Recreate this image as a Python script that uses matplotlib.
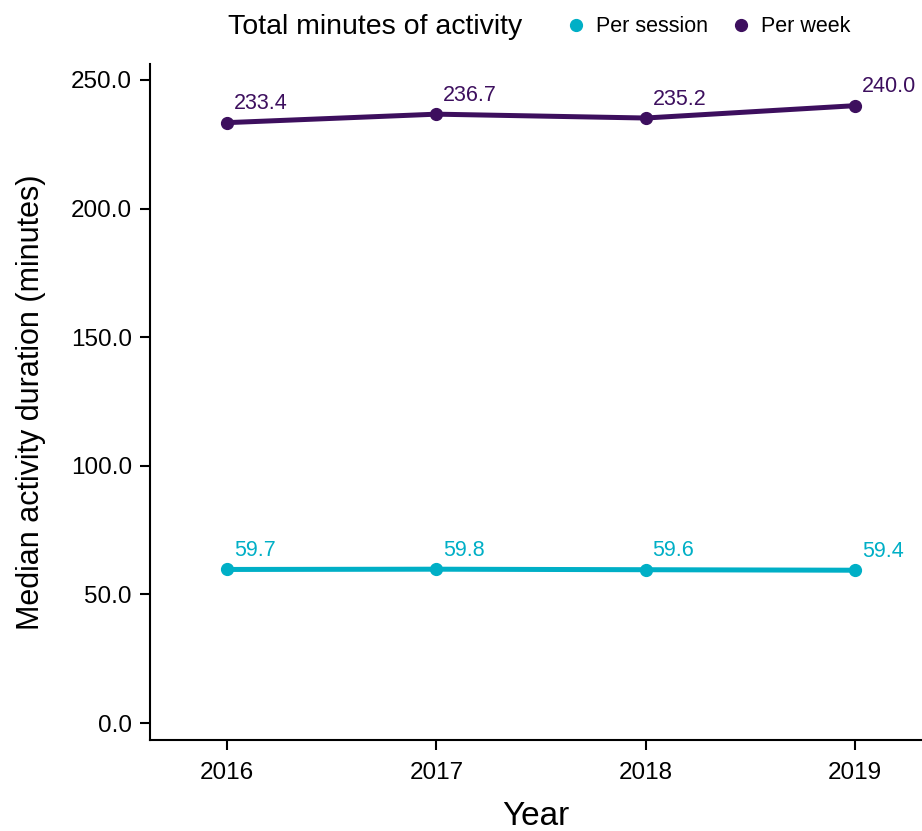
import matplotlib
matplotlib.use("Agg")
import matplotlib.pyplot as plt
from matplotlib.lines import Line2D

plt.rcParams['font.family'] = ['Liberation Sans', 'DejaVu Sans']

years = [2016, 2017, 2018, 2019]
per_session = [59.7, 59.8, 59.6, 59.4]
per_week = [233.4, 236.7, 235.2, 240.0]
series_names = ["Per session", "Per week"]
legend_title = "Total minutes of activity"
yticks = [0, 50, 100, 150, 200, 250]

c_session = "#00AFC6"
c_week = "#3D0F5E"

fig = plt.figure(figsize=(9.22, 8.31), dpi=100)
W, H = 922, 831
ax = fig.add_axes([150 / W, 1 - 740 / H, (922 - 150) / W, (740 - 64) / H])

for vals, col in [(per_session, c_session), (per_week, c_week)]:
    ax.plot(years, vals, color=col, lw=3.6, marker='o', ms=8.5, solid_capstyle='round')
    for x, v in zip(years, vals):
        ax.annotate(f"{v:.1f}", (x, v), xytext=(5, 6), textcoords='offset points',
                    color=col, fontsize=15.5, ha='left', va='bottom')

ax.set_xlim(2015.632, 2019.32)
ax.set_ylim(-6.6, 256.2)
ax.set_xticks(years)
ax.set_xticklabels([str(y) for y in years])
ax.set_yticks(yticks)
ax.set_yticklabels([f"{t:.1f}" for t in yticks])
for s in ['top', 'right']:
    ax.spines[s].set_visible(False)
for s in ['left', 'bottom']:
    ax.spines[s].set_linewidth(1.5)
ax.tick_params(axis='both', labelsize=17.5, width=1.5, length=7, pad=6, colors='black')
ax.tick_params(axis='x', pad=9)
ax.set_xlabel("Year", fontsize=24, labelpad=12)
ax.set_ylabel("Median activity duration (minutes)", fontsize=22, labelpad=18)

fig.text(228 / W, 1 - 27 / H, legend_title, fontsize=20.5, ha='left', va='center')
handles = [Line2D([], [], marker='o', color=c, ls='none', ms=8.5) for c in (c_session, c_week)]
fig.legend(handles, series_names, loc='center left', bbox_to_anchor=(563 / W, 1 - 27 / H),
           ncol=2, frameon=False, fontsize=15.5, handletextpad=0.35, columnspacing=0.9,
           handlelength=1.2, borderaxespad=0, borderpad=0)

fig.savefig("out.png", dpi=100)
